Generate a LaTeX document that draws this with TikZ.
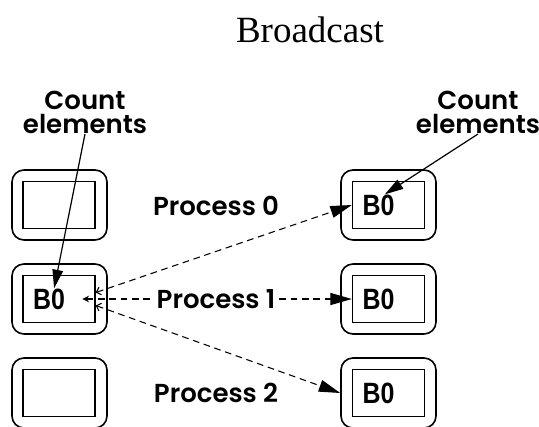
\documentclass[tikz,border=0pt]{standalone}
\usepackage{fontspec}
\setmainfont{Liberation Serif}
\newfontfamily\lblfont{Poppins SemiBold}
\newfontfamily\narrowfont[FakeStretch=0.85]{Liberation Sans}
\usetikzlibrary{positioning,arrows.meta}

\tikzset{
  outerbox/.style={draw, line width=1.2pt, rounded corners=9pt, minimum width=71.25pt, minimum height=52.5pt},
  innerbox/.style={draw, line width=1.1pt, minimum width=54pt, minimum height=35.25pt},
  bufname/.style={inner sep=0pt, font=\narrowfont\bfseries\fontsize{22}{22}\selectfont},
  proclabel/.style={fill=white, inner sep=2pt, font=\lblfont\fontsize{19.5}{20}\selectfont},
  countlabel/.style={align=center, inner sep=0pt, font=\lblfont\fontsize{19.5}{18}\selectfont},
  sendarrow/.style={dash pattern=on 5pt off 3.5pt, line width=0.8pt,
    {Straight Barb[length=3pt,width=6pt]}-{Triangle[length=16pt,width=9pt]}},
  ptr/.style={line width=0.9pt, -{Triangle[length=14pt,width=8pt]}}
}

\begin{document}
\begin{tikzpicture}[x=0.75pt, y=-0.75pt]
  \useasboundingbox (0,0) rectangle (539,426);
  \node[anchor=base, font=\fontsize{27.75}{30}\selectfont] (title) at (310,42) {Broadcast};

  % root buffers (left) and receive buffers (right)
  \foreach \r/\y in {0/205,1/299,2/393} {
    \node[outerbox] (lo\r) at (59.5,\y) {};
    \node[innerbox] (li\r) at (59,\y) {};
    \node[outerbox] (ro\r) at (388.5,\y) {};
    \node[innerbox] (ri\r) at (388.5,\y) {};
    \node[bufname, right=8pt of ri\r.west] (rb\r) {B0};
  }
  \node[bufname, right=8pt of li1.west] (lb1) {B0};

  \node[countlabel, anchor=south] (cntl) at (85,134) {Count\\elements};
  \node[countlabel, anchor=south] (cntr) at (478,134) {Count\\elements};
  \draw[ptr] (cntl.south) -- (lb1.65);
  \draw[ptr] (cntr.south) -- (rb0.60);

  % sends from process 1
  \coordinate[left=10pt of li1.east] (bcast);
  \draw[sendarrow] (li1.10) -- (ri0.west);
  \draw[sendarrow, {Stealth[length=5pt,width=5pt]}-{Triangle[length=16pt,width=9pt]}] (bcast) -- (ri1.west);
  \draw[sendarrow] (li1.-10) -- (ro2.west);

  \foreach \r/\y in {0/206,1/299,2/393}
    \node[proclabel] (pl\r) at (216,\y) {Process \r};
\end{tikzpicture}
\end{document}
